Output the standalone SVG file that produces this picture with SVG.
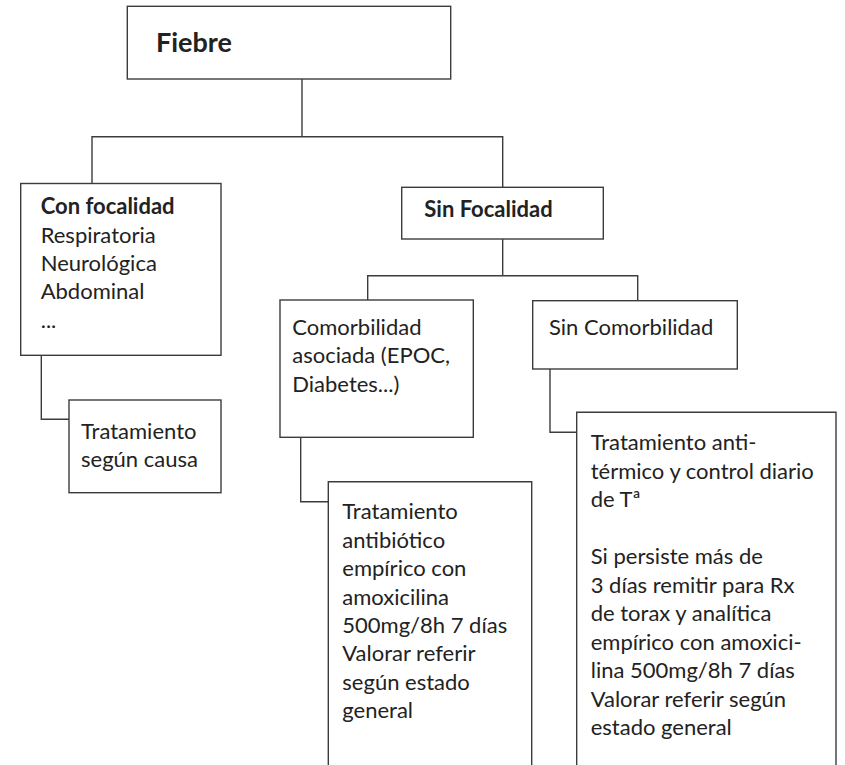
<svg xmlns="http://www.w3.org/2000/svg" width="845" height="765" viewBox="0 0 845 765">
  <style>
    .box { fill: #ffffff; stroke: #3c3c3c; stroke-width: 1.4; }
    .wire { fill: none; stroke: #3c3c3c; stroke-width: 1.4; }
    text { font-family: "Lato", "Liberation Sans", sans-serif; font-size: 22px; fill: #222222; }
    .b { font-weight: bold; }
    .title { font-size: 27px; font-weight: bold; }
  </style>
  <rect width="845" height="765" fill="#ffffff"/>

  <!-- connectors -->
  <g id="connectors">
    <path class="wire" d="M302,79 V136.7 M92,183.5 V136.7 H502.7 V187.3"/>
    <path class="wire" d="M502.7,239 V275.7 M367.7,300 V275.7 H637.7 V300.7"/>
    <path class="wire" d="M41.3,355.3 V419.3 H69"/>
    <path class="wire" d="M300.7,437.3 V501.7 H328.3"/>
    <path class="wire" d="M550,369 V432.3 H576.7"/>
  </g>

  <g id="fiebre">
    <rect class="box" x="127.3" y="6.3" width="323.4" height="72.7"/>
    <text class="title" x="156" y="51.7">Fiebre</text>
  </g>

  <g id="con-focalidad">
    <rect class="box" x="20.7" y="183.5" width="200.3" height="171.8"/>
    <text x="40.7" y="214" class="b">Con focalidad</text>
    <text x="40.7" y="242.5">Respiratoria</text>
    <text x="40.7" y="271">Neurológica</text>
    <text x="40.7" y="299.3">Abdominal</text>
    <text x="40.7" y="327.5">...</text>
  </g>

  <g id="tratamiento-causa">
    <rect class="box" x="69" y="400" width="152" height="92.7"/>
    <text x="81" y="439.3">Tratamiento</text>
    <text x="81" y="467">según causa</text>
  </g>

  <g id="sin-focalidad">
    <rect class="box" x="401.7" y="187.3" width="201.6" height="51.7"/>
    <text x="424.3" y="216.7" class="b">Sin Focalidad</text>
  </g>

  <g id="comorbilidad">
    <rect class="box" x="280" y="300" width="193.3" height="137.3"/>
    <text x="292.3" y="334.5">Comorbilidad</text>
    <text x="292.3" y="363.3">asociada (EPOC,</text>
    <text x="292.3" y="392">Diabetes...)</text>
  </g>

  <g id="sin-comorbilidad">
    <rect class="box" x="532.7" y="300.7" width="204.6" height="68.3"/>
    <text x="549" y="335">Sin Comorbilidad</text>
  </g>

  <g id="tratamiento-antibiotico">
    <path class="box" d="M328.3,770 V481.7 H531.7 V770"/>
    <text x="342.3" y="519.3">Tratamiento</text>
    <text x="342.3" y="547.7">antibiótico</text>
    <text x="342.3" y="576">empírico con</text>
    <text x="342.3" y="604.5">amoxicilina</text>
    <text x="342.3" y="633">500mg/8h 7 días</text>
    <text x="342.3" y="661.3">Valorar referir</text>
    <text x="342.3" y="689.7">según estado</text>
    <text x="342.3" y="718">general</text>
  </g>

  <g id="tratamiento-antitermico">
    <path class="box" d="M576.7,770 V412.3 H836 V770"/>
    <text x="590.7" y="450">Tratamiento anti-</text>
    <text x="590.7" y="478.5">térmico y control diario</text>
    <text x="590.7" y="507">de Tª</text>
    <text x="590.7" y="564">Si persiste más de</text>
    <text x="590.7" y="592.5">3 días remitir para Rx</text>
    <text x="590.7" y="621">de torax y analítica</text>
    <text x="590.7" y="649.5">empírico con amoxici-</text>
    <text x="590.7" y="678">lina 500mg/8h 7 días</text>
    <text x="590.7" y="706.5">Valorar referir según</text>
    <text x="590.7" y="735">estado general</text>
  </g>
</svg>
